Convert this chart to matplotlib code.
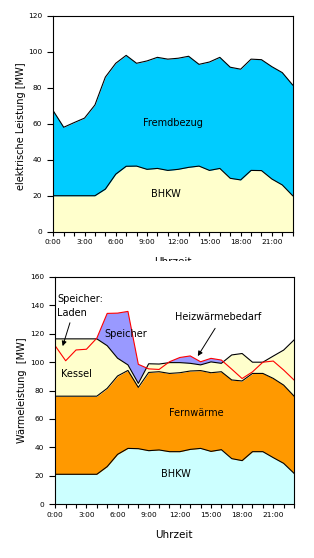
import matplotlib
matplotlib.use("Agg")
import matplotlib.pyplot as plt
from matplotlib.patches import Rectangle
import numpy as np

plt.rcParams['font.family'] = ['DejaVu Sans']

hours = list(range(24))
tick_labels = ["0:00", "3:00", "6:00", "9:00", "12:00", "15:00", "18:00", "21:00"]

# --- top chart: electrical power (cumulative tops, MW)
el_bhkw = [20, 20, 20, 20, 20, 23.7, 32, 36.4, 36.5, 34.7, 35.2, 34.1,
           34.7, 35.8, 36.5, 34.1, 35.2, 29.7, 28.8, 34.1, 34, 29.3, 26, 20]
el_total = [67.2, 58.1, 60.7, 63.2, 70.5, 86, 93.7, 98.1, 93.7, 95, 97, 96,
            96.5, 97.6, 93.1, 94.4, 97, 91.5, 90.4, 96, 95.7, 91.8, 88.5, 81.6]

# --- bottom chart: heat (cumulative tops, MW)
w_bhkw = [21.1, 21.1, 21.1, 21.1, 21.1, 26.5, 35.1, 39.3, 39.1, 37.7, 38.2, 37,
          37, 38.6, 39.3, 37.2, 38.4, 32.1, 30.7, 37, 37, 32.8, 28.8, 21.8]
w_fernwaerme = [76, 76, 76, 76, 76, 81.5, 90.2, 94.1, 82.2, 92.7, 93.2, 92,
                92.5, 93.7, 94, 92.5, 93.2, 87.4, 86.7, 92, 92, 88.5, 83.8, 76.1]
w_kessel = [116.3, 116.3, 116.3, 116.3, 116.3, 111.5, 102.7, 98, 85, 98.8, 98.6, 99.6,
            99.6, 99.1, 98, 100.1, 99.1, 105, 106, 99.9, 99.9, 104.2, 108.4, 115.5]
w_bedarf = [111.3, 100.9, 108.5, 109, 116.8, 134.2, 134.4, 135.6, 98.4, 95.2, 94.8, 100.2,
            103.2, 104.3, 100.2, 102.6, 101.4, 95, 88.4, 93.1, 99.9, 100.7, 94.4, 87.4]

x = np.array(hours, dtype=float)
W, H = 314, 558
fig = plt.figure(figsize=(W / 100, H / 100), dpi=100)

def setup_axes(ax, ymax, ystep):
    ax.set_xlim(0, 23)
    ax.set_ylim(0, ymax)
    ax.set_xticks(hours)
    ax.set_xticklabels([tick_labels[h // 3] if h % 3 == 0 else "" for h in hours])
    ax.set_yticks(np.arange(0, ymax + 1, ystep))
    ax.tick_params(direction='out', length=3, width=0.8, labelsize=5.3, pad=2.5,
                   colors='black')
    ax.tick_params(axis='y', length=4, pad=4)
    for s in ax.spines.values():
        s.set_linewidth(0.8)
        s.set_color('black')
    ax.set_facecolor('white')

# ---------------- top axes
ax1 = fig.add_axes([53.3 / W, 1 - 231.7 / H, 239.4 / W, 215.7 / H])
setup_axes(ax1, 120, 20)
ax1.fill_between(x, 0, el_bhkw, color='#FFFFCC', lw=0)
ax1.fill_between(x, el_bhkw, el_total, color='#00CCFF', lw=0)
ax1.plot(x, el_bhkw, color='black', lw=0.8)
ax1.plot(x, el_total, color='black', lw=0.8)
ax1.text(11.5, 60.7, "Fremdbezug", ha='center', va='center', fontsize=7)
ax1.text(10.8, 20.8, "BHKW", ha='center', va='center', fontsize=7)

fig.text(21 / W, 1 - 126 / H, "elektrische Leistung [MW]", rotation=90,
         ha='center', va='center', fontsize=7)
fig.text(173 / W, 1 - 262 / H, "Uhrzeit", ha='center', va='center', fontsize=7.5)
fig.patches.append(Rectangle((0, 1 - 272 / H), 1, 10.5 / H, transform=fig.transFigure,
                             facecolor='white', edgecolor='none', zorder=5))

# ---------------- bottom axes
ax2 = fig.add_axes([55.3 / W, 1 - 504.3 / H, 238.7 / W, 227.6 / H])
setup_axes(ax2, 160, 20)
bh = np.array(w_bhkw); fw = np.array(w_fernwaerme); ke = np.array(w_kessel)
bd = np.array(w_bedarf)
ax2.fill_between(x, 0, bh, color='#CCFFFF', lw=0)
ax2.fill_between(x, bh, fw, color='#FF9900', lw=0)
ax2.fill_between(x, fw, ke, color='#FFFFCC', lw=0)
ax2.fill_between(x, ke, bd, where=bd > ke, interpolate=True, color='#9999FF', lw=0)
ax2.plot(x, bh, color='black', lw=0.8)
ax2.plot(x, fw, color='black', lw=0.8)
ax2.plot(x, ke, color='black', lw=0.8)
ax2.plot(x, bd, color='#FF0000', lw=0.8)

ax2.text(0.2, 139.5, "Speicher:\nLaden", ha='left', va='center', fontsize=7,
         linespacing=1.5)
ax2.annotate("", xy=(0.71, 111.2), xytext=(1.41, 127.6),
             arrowprops=dict(arrowstyle='-|>', color='black', lw=0.7,
                             mutation_scale=7, shrinkA=0, shrinkB=0))
ax2.text(6.82, 119.4, "Speicher", ha='center', va='center', fontsize=7)
ax2.text(1.99, 91.6, "Kessel", ha='center', va='center', fontsize=7)
ax2.text(13.57, 64.4, "Fernwärme", ha='center', va='center', fontsize=7)
ax2.text(11.64, 21.1, "BHKW", ha='center', va='center', fontsize=7)
ax2.text(15.72, 131.8, "Heizwärmebedarf", ha='center', va='center', fontsize=7)
ax2.annotate("", xy=(13.73, 104.2), xytext=(15.4, 123.7),
             arrowprops=dict(arrowstyle='-|>', color='black', lw=0.7,
                             mutation_scale=7, shrinkA=0, shrinkB=0))

fig.text(21.7 / W, 1 - 390.5 / H, "Wärmeleistung  [MW]", rotation=90,
         ha='center', va='center', fontsize=7)
fig.text(174 / W, 1 - 535 / H, "Uhrzeit", ha='center', va='center', fontsize=7.5)

fig.savefig("out.png", dpi=100, facecolor='white')
